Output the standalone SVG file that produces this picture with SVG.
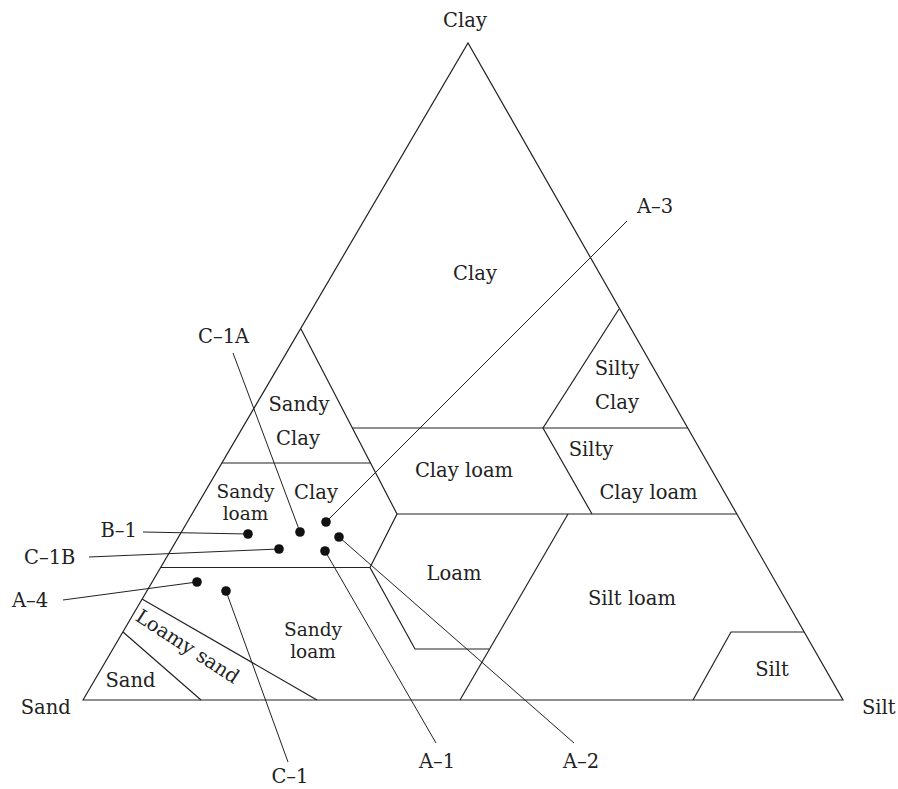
<svg xmlns="http://www.w3.org/2000/svg" width="898" height="789" viewBox="0 0 898 789">
<style>
text{font-family:"DejaVu Serif","Liberation Serif",serif;font-size:19.5px;fill:#222}
.m{text-anchor:middle}
.e{text-anchor:end}
.s{font-size:18.5px}
.ln{fill:none;stroke:#222;stroke-width:1.2}
.ld{fill:none;stroke:#222;stroke-width:1}
.dot{fill:#111}
</style>
<rect width="898" height="789" fill="#fff"/>
<g id="triangle">
<path class="ln" d="M83,700 L468,43 L843,700 Z"/>
</g>
<g id="boundaries">
<path class="ln" d="M301,329 L397,514 L370,567.5 L415,649 L489,649"/>
<path class="ln" d="M222,463 L370.5,463"/>
<path class="ln" d="M352.5,428 L688,428"/>
<path class="ln" d="M619,309 L543,428 L592,514"/>
<path class="ln" d="M397,514 L737,514"/>
<path class="ln" d="M160.6,567.5 L370,567.5"/>
<path class="ln" d="M568,514 L460,700"/>
<path class="ln" d="M804,632 L731,632 L693,700"/>
<path class="ln" d="M142,599 L317,700"/>
<path class="ln" d="M123,632 L201,700"/>
</g>
<g id="region-labels">
<text class="m" x="465" y="27">Clay</text>
<text x="20.7" y="714">Sand</text>
<text x="862" y="714">Silt</text>
<text class="m" x="475" y="280">Clay</text>
<text class="m" x="299" y="411">Sandy</text>
<text class="m" x="298" y="445">Clay</text>
<text class="m" x="617" y="375">Silty</text>
<text class="m" x="617" y="409">Clay</text>
<text class="m" x="464" y="477">Clay loam</text>
<text class="m" x="591" y="456">Silty</text>
<text class="m" x="648.5" y="499">Clay loam</text>
<text class="m s" x="245.5" y="498">Sandy</text>
<text class="m s" x="245.5" y="520">loam</text>
<text class="m" x="316" y="499">Clay</text>
<text class="m" x="454" y="580">Loam</text>
<text class="m" x="632" y="605">Silt loam</text>
<text class="m" x="772" y="676">Silt</text>
<text class="m" x="130.5" y="687">Sand</text>
<text class="m" transform="translate(184,652) rotate(33)">Loamy sand</text>
<text class="m s" x="313" y="636">Sandy</text>
<text class="m s" x="313" y="658">loam</text>
</g>
<g id="connectors">
<path class="ld" d="M627,221 L326,522"/>
<path class="ld" d="M233,353 L300,532"/>
<path class="ld" d="M143,532 L248,534"/>
<path class="ld" d="M89,557 L279,549"/>
<path class="ld" d="M63,600 L197,582"/>
<path class="ld" d="M226,591 L288,762"/>
<path class="ld" d="M325,551 L436,743"/>
<path class="ld" d="M339,537 L574,743"/>
</g>
<g id="A-3"><circle class="dot" cx="326" cy="522" r="4.8"/><text x="637" y="213">A–3</text></g>
<g id="C-1A"><circle class="dot" cx="300" cy="532" r="4.8"/><text x="198" y="343">C–1A</text></g>
<g id="B-1"><circle class="dot" cx="248" cy="534" r="4.8"/><text class="e" x="137" y="537">B–1</text></g>
<g id="C-1B"><circle class="dot" cx="279" cy="549" r="4.8"/><text x="24" y="564">C–1B</text></g>
<g id="A-4"><circle class="dot" cx="197" cy="582" r="4.8"/><text x="12" y="607">A–4</text></g>
<g id="C-1"><circle class="dot" cx="226" cy="591" r="4.8"/><text class="m" x="290" y="783">C–1</text></g>
<g id="A-1"><circle class="dot" cx="325" cy="551" r="4.8"/><text class="m" x="437" y="768">A–1</text></g>
<g id="A-2"><circle class="dot" cx="339" cy="537" r="4.8"/><text class="m" x="581" y="768">A–2</text></g>
</svg>
